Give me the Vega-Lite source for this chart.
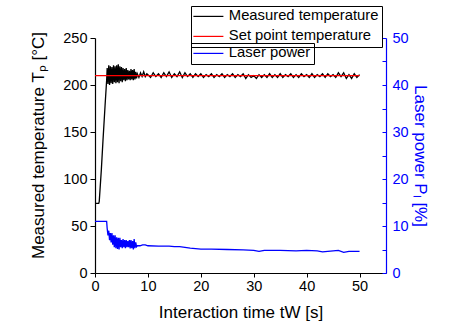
{
  "$schema": "https://vega.github.io/schema/vega-lite/v6.json",
  "width": 291,
  "height": 235,
  "autosize": "none",
  "padding": {"left": 95, "top": 38, "right": 65, "bottom": 52},
  "background": "white",
  "config": {
    "font": "Liberation Sans",
    "view": {"stroke": null},
    "axis": {"grid": false, "labelFontSize": 14.5, "titleFontSize": 17, "titleFontWeight": "normal", "labelColor": "black", "titleColor": "black", "domainColor": "black", "tickColor": "black", "domainWidth": 1.2, "tickWidth": 1}
  },
  "datasets": {
    "temp": [
      {"t": 0, "T": 74}, {"t": 0.7, "T": 74}, {"t": 0.8, "T": 76}, {"t": 1.2, "T": 110}, {"t": 1.5, "T": 140}, {"t": 1.9, "T": 178}, {"t": 2.2, "T": 205},
      {"t": 2.3, "T": 218}, {"t": 2.45, "T": 201}, {"t": 2.6, "T": 221}, {"t": 2.75, "T": 200}, {"t": 2.9, "T": 220}, {"t": 3.05, "T": 202},
      {"t": 3.2, "T": 219}, {"t": 3.35, "T": 201}, {"t": 3.5, "T": 221}, {"t": 3.65, "T": 203}, {"t": 3.8, "T": 220}, {"t": 3.95, "T": 202},
      {"t": 4.1, "T": 221}, {"t": 4.25, "T": 203}, {"t": 4.4, "T": 222}, {"t": 4.55, "T": 202}, {"t": 4.7, "T": 220}, {"t": 4.85, "T": 204},
      {"t": 5.0, "T": 219}, {"t": 5.15, "T": 203}, {"t": 5.3, "T": 218}, {"t": 5.45, "T": 205}, {"t": 5.6, "T": 217}, {"t": 5.75, "T": 204},
      {"t": 5.9, "T": 218}, {"t": 6.05, "T": 205}, {"t": 6.2, "T": 216}, {"t": 6.35, "T": 206}, {"t": 6.5, "T": 215}, {"t": 6.65, "T": 205},
      {"t": 6.8, "T": 217}, {"t": 6.95, "T": 206}, {"t": 7.1, "T": 216}, {"t": 7.25, "T": 205}, {"t": 7.4, "T": 217}, {"t": 7.55, "T": 206},
      {"t": 7.7, "T": 214}, {"t": 7.85, "T": 207}, {"t": 8.0, "T": 212}, {"t": 8.3, "T": 208}, {"t": 8.6, "T": 213}, {"t": 8.9, "T": 209},
      {"t": 9.2, "T": 214}, {"t": 9.5, "T": 209}, {"t": 9.8, "T": 212},
      {"t": 10, "T": 211}, {"t": 10.5, "T": 208}, {"t": 11, "T": 213}, {"t": 11.5, "T": 209}, {"t": 12, "T": 212}, {"t": 12.5, "T": 208},
      {"t": 13, "T": 213}, {"t": 13.5, "T": 209}, {"t": 14, "T": 214}, {"t": 14.5, "T": 208}, {"t": 15, "T": 212}, {"t": 15.5, "T": 209},
      {"t": 16, "T": 214}, {"t": 16.5, "T": 208}, {"t": 17, "T": 213}, {"t": 17.5, "T": 209}, {"t": 18, "T": 212}, {"t": 18.5, "T": 208},
      {"t": 19, "T": 212}, {"t": 19.5, "T": 209}, {"t": 20, "T": 212}, {"t": 20.5, "T": 208}, {"t": 21, "T": 211}, {"t": 21.5, "T": 209},
      {"t": 22, "T": 212}, {"t": 22.5, "T": 208}, {"t": 23, "T": 211}, {"t": 23.5, "T": 209}, {"t": 24, "T": 212}, {"t": 24.5, "T": 208},
      {"t": 25, "T": 211}, {"t": 25.5, "T": 209}, {"t": 26, "T": 212}, {"t": 26.5, "T": 208}, {"t": 27, "T": 211}, {"t": 27.5, "T": 209},
      {"t": 28, "T": 212}, {"t": 28.5, "T": 207}, {"t": 29, "T": 211}, {"t": 29.5, "T": 208}, {"t": 30, "T": 210}, {"t": 30.5, "T": 207},
      {"t": 31, "T": 211}, {"t": 31.5, "T": 208}, {"t": 32, "T": 211}, {"t": 32.5, "T": 208}, {"t": 33, "T": 212}, {"t": 33.5, "T": 208},
      {"t": 34, "T": 211}, {"t": 34.5, "T": 208}, {"t": 35, "T": 212}, {"t": 35.5, "T": 208}, {"t": 36, "T": 211}, {"t": 36.5, "T": 209},
      {"t": 37, "T": 212}, {"t": 37.5, "T": 208}, {"t": 38, "T": 211}, {"t": 38.5, "T": 208}, {"t": 39, "T": 212}, {"t": 39.5, "T": 209},
      {"t": 40, "T": 211}, {"t": 40.5, "T": 208}, {"t": 41, "T": 212}, {"t": 41.5, "T": 208}, {"t": 42, "T": 211}, {"t": 42.5, "T": 209},
      {"t": 43, "T": 212}, {"t": 43.5, "T": 208}, {"t": 44, "T": 212}, {"t": 44.5, "T": 209}, {"t": 45, "T": 211}, {"t": 45.5, "T": 208},
      {"t": 46, "T": 213}, {"t": 46.5, "T": 209}, {"t": 47, "T": 213}, {"t": 47.5, "T": 207}, {"t": 48, "T": 211}, {"t": 48.5, "T": 207},
      {"t": 49, "T": 212}, {"t": 49.5, "T": 208}, {"t": 50, "T": 211}
    ],
    "setpoint": [{"t": 0, "T": 210}, {"t": 50, "T": 210}],
    "power": [
      {"t": 0, "P": 11}, {"t": 2.2, "P": 11}, {"t": 2.3, "P": 9.5}, {"t": 2.45, "P": 8}, {"t": 2.6, "P": 9}, {"t": 2.75, "P": 7},
      {"t": 2.9, "P": 8.5}, {"t": 3.05, "P": 6.5}, {"t": 3.2, "P": 8.5}, {"t": 3.35, "P": 6}, {"t": 3.5, "P": 8}, {"t": 3.65, "P": 5.5},
      {"t": 3.8, "P": 8}, {"t": 3.95, "P": 5.3}, {"t": 4.1, "P": 7.6}, {"t": 4.25, "P": 5.1}, {"t": 4.4, "P": 7.5}, {"t": 4.55, "P": 5},
      {"t": 4.7, "P": 7.5}, {"t": 4.85, "P": 5.5}, {"t": 5.0, "P": 7}, {"t": 5.15, "P": 5.3}, {"t": 5.3, "P": 7.2}, {"t": 5.45, "P": 5.5},
      {"t": 5.6, "P": 7}, {"t": 5.75, "P": 5.3}, {"t": 5.9, "P": 7}, {"t": 6.05, "P": 5.5}, {"t": 6.2, "P": 6.8}, {"t": 6.35, "P": 5.5},
      {"t": 6.5, "P": 7}, {"t": 6.65, "P": 5.2}, {"t": 6.8, "P": 7}, {"t": 6.95, "P": 5.3}, {"t": 7.1, "P": 6.8}, {"t": 7.25, "P": 5},
      {"t": 7.4, "P": 7.2}, {"t": 7.55, "P": 5.3}, {"t": 7.7, "P": 6.5}, {"t": 7.85, "P": 5.6}, {"t": 8, "P": 5.8}, {"t": 8.5, "P": 5.8},
      {"t": 9, "P": 6.0}, {"t": 9.5, "P": 6.0}, {"t": 10, "P": 5.8}, {"t": 12, "P": 5.7}, {"t": 14, "P": 5.7}, {"t": 15, "P": 5.6},
      {"t": 16, "P": 5.6}, {"t": 18, "P": 5.3}, {"t": 20, "P": 5.1}, {"t": 22, "P": 5.1}, {"t": 25, "P": 5.0}, {"t": 28, "P": 4.9},
      {"t": 30, "P": 4.8}, {"t": 31, "P": 4.6}, {"t": 32, "P": 4.8}, {"t": 35, "P": 4.8}, {"t": 38, "P": 4.7}, {"t": 40, "P": 4.8},
      {"t": 42, "P": 4.7}, {"t": 43, "P": 4.5}, {"t": 44, "P": 4.6}, {"t": 46, "P": 4.8}, {"t": 47, "P": 4.4}, {"t": 48, "P": 4.6},
      {"t": 49, "P": 4.6}, {"t": 50, "P": 4.6}
    ]
  },
  "layer": [
    {
      "layer": [
        {
          "data": {"name": "temp"},
          "mark": {"type": "line", "strokeWidth": 1.3},
          "encoding": {
            "x": {"field": "t", "type": "quantitative", "scale": {"domain": [0, 55], "nice": false},
              "axis": {"title": "Interaction time tW [s]", "values": [0, 5, 10, 15, 20, 25, 30, 35, 40, 45, 50, 55],
                "labelExpr": "datum.value % 10 === 0 && datum.value < 55 ? datum.label : ''",
                "tickSize": {"condition": {"test": "datum.value % 10 === 0 && datum.value < 55", "value": 4}, "value": -3},
                "labelPadding": 2, "titlePadding": 12, "labelFlush": false}},
            "y": {"field": "T", "type": "quantitative", "scale": {"domain": [0, 250], "nice": false},
              "axis": {"title": "Measured temperature Tₚ [°C]", "orient": "left", "values": [0, 25, 50, 75, 100, 125, 150, 175, 200, 225, 250],
                "labelExpr": "datum.value % 50 === 0 ? datum.label : ''",
                "tickSize": {"condition": {"test": "datum.value % 50 === 0", "value": 5}, "value": 3},
                "labelPadding": 3, "titlePadding": 15, "titleY": 107}},
            "color": {"datum": "Measured temperature", "type": "nominal",
              "scale": {"domain": ["Measured temperature", "Set point temperature"], "range": ["black", "red"]},
              "legend": {"title": null, "orient": "none", "legendX": 96, "legendY": -32, "strokeColor": "black", "padding": 3,
                "symbolType": "M-3,0H3", "symbolSize": 100, "symbolOffset": 7, "symbolStrokeWidth": 1.2, "labelFontSize": 14.8, "rowPadding": 4, "labelOffset": 13}}
          }
        },
        {
          "data": {"name": "setpoint"},
          "mark": {"type": "line", "strokeWidth": 1.3},
          "encoding": {
            "x": {"field": "t", "type": "quantitative"},
            "y": {"field": "T", "type": "quantitative"},
            "color": {"datum": "Set point temperature", "type": "nominal"}
          }
        }
      ]
    },
    {
      "data": {"name": "power"},
      "mark": {"type": "line", "strokeWidth": 1.3},
      "encoding": {
        "x": {"field": "t", "type": "quantitative"},
        "y": {"field": "P", "type": "quantitative", "scale": {"domain": [0, 50], "nice": false},
          "axis": {"title": "Laser power Pₗ [%]", "orient": "right", "values": [0, 5, 10, 15, 20, 25, 30, 35, 40, 45, 50],
            "labelExpr": "datum.value % 10 === 0 ? datum.label : ''",
            "tickSize": -4, "labelPadding": 10,
            "domainColor": "blue", "tickColor": "blue", "labelColor": "blue", "titleColor": "blue", "titlePadding": 2}},
        "color": {"datum": "Laser power", "type": "nominal",
          "scale": {"domain": ["Laser power"], "range": ["blue"]},
          "legend": {"title": null, "orient": "none", "legendX": 96, "legendY": 5, "strokeColor": "black", "padding": 3,
            "symbolType": "M-3,0H3", "symbolSize": 100, "symbolOffset": 7, "symbolStrokeWidth": 1.2, "labelFontSize": 14.8, "labelOffset": 13}}
      }
    }
  ],
  "resolve": {"scale": {"y": "independent", "color": "independent"}}
}
